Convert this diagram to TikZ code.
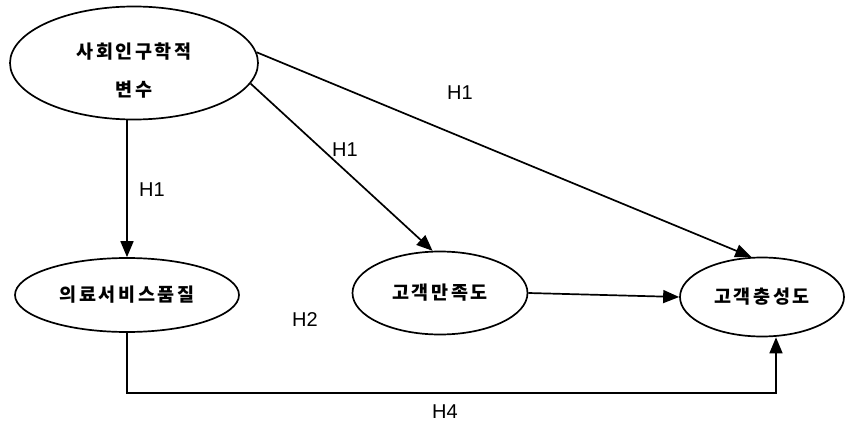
\documentclass[tikz,border=0pt]{standalone}
\usepackage{fontspec}
\setmainfont{Liberation Sans}
\newfontfamily\kr[LetterSpace=14]{Noto Sans CJK KR}
\usetikzlibrary{shapes.geometric,arrows.meta}
\begin{document}
\begin{tikzpicture}[x=1pt,y=-1pt,
  krtext/.style={font=\kr\fontsize{18.5}{20}\selectfont\bfseries},
  ell/.style={ellipse,draw,line width=1.7pt,inner sep=0pt,krtext},
  arr/.style={line width=1.7pt,-{Triangle[length=16pt,width=13pt]}},
  lab/.style={font=\fontsize{20}{22}\selectfont}]
\useasboundingbox (0,0) rectangle (846,428);
\node[ell,minimum width=248,minimum height=113] (top) at (134,63) {};
\node[krtext] (topa) at (134,52) {사회인구학적};
\node[krtext] (topb) at (134,90) {변수};
\node[ell,minimum width=224,minimum height=74] (q) at (127,295) {의료서비스품질};
\node[ell,minimum width=175,minimum height=83] (sat) at (440,293) {고객만족도};
\node[ell,minimum width=164,minimum height=79] (loy) at (762,297) {고객충성도};
\coordinate (c) at (776,393);
\draw[arr] (q.north |- top.south) -- (q.north);
\draw[arr] (top.5) -- (loy.105);
\draw[arr] (top.-10) -- (sat.100);
\draw[arr] (sat.east) -- (loy.west);
\draw[arr] (q.south) |- (c) -- (c |- loy.south);
\node[lab] (h1a) at (152,190) {H1};
\node[lab] (h1b) at (345,150) {H1};
\node[lab] (h1c) at (460,93) {H1};
\node[lab] (h2) at (305,320) {H2};
\node[lab] (h4) at (445,412) {H4};
\end{tikzpicture}
\end{document}
